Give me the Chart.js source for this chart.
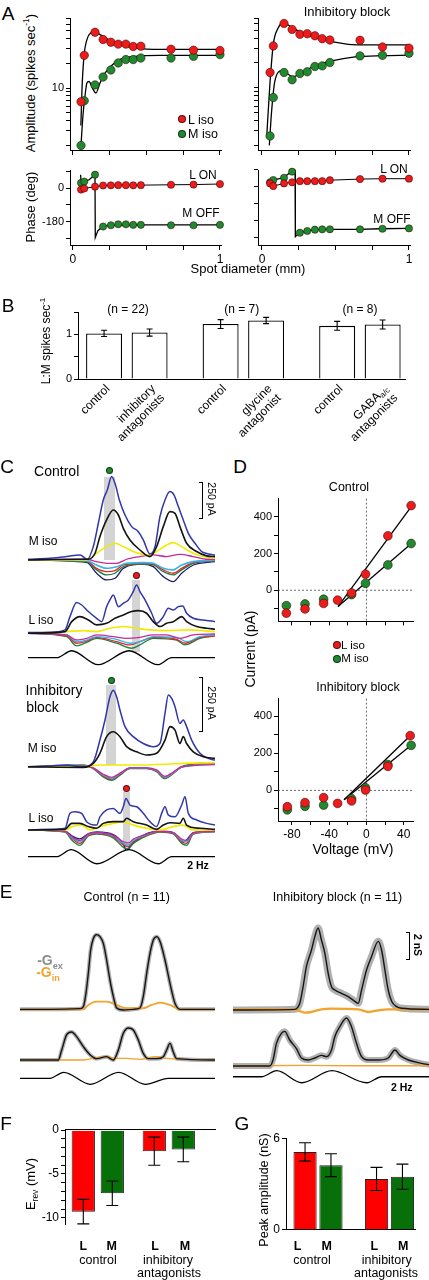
<!DOCTYPE html>
<html>
<head>
<meta charset="utf-8">
<script src="https://cdn.jsdelivr.net/npm/chart.js@4.4.1/dist/chart.umd.min.js"></script>
<style>
  body { margin: 0; width: 429px; height: 1280px; position: relative; overflow: hidden; background: #fff;
         font-family: 'Liberation Sans', Arial, sans-serif; }
  canvas { position: absolute; }
  .t { position: absolute; white-space: nowrap; line-height: 1; color: #000; }
  .t sup, .t sub { font-size: 65%; line-height: 0; }
  .box { position: absolute; }
</style>
</head>
<body>
<script>
// ---------- A: spot diameter tuning (mm) ----------
const spotDiam = [0.055, 0.077, 0.15, 0.205, 0.258, 0.308, 0.36, 0.41, 0.462, 0.667, 0.82, 1.0];
const ampL_ctl = [6.8, 25, 47.7, 38.9, 36.1, 34.2, 34.2, 32, 32.3, 29.7, 28.9, 28.6];
const ampM_ctl = [2.0, 7.0, 10.9, 13.6, 16.6, 20.2, 22.2, 22.2, 23.2, 23.2, 24.3, 25.5];
const ampL_blk = [15.3, 32.1, 60.2, 50.9, 44.4, 45.1, 42.6, 39.3, 37.9, 37.6, 31.2, 30.2];
const ampM_blk = [2.6, 7.6, 15.3, 12.5, 14.9, 15.6, 18.1, 18.4, 20.2, 24.3, 24.7, 26.2];
// fitted curves, [diameter, amplitude]
const fitL_ctl = [[0.054,3.5],[0.061,9.2],[0.075,24.3],[0.095,38.9],[0.122,47.2],[0.15,48.6],[0.184,44.7],[0.252,37.9],[0.32,33.8],[0.422,30.8],[0.592,29.5],[1.0,29.5]];
const fitM_ctl = [[0.054,1.9],[0.068,4.6],[0.082,8],[0.095,11.5],[0.109,12],[0.136,9.7],[0.156,8.7],[0.184,11.5],[0.218,15.2],[0.265,18.9],[0.32,22.3],[0.422,24.3],[0.592,25],[1.0,25]];
const fitL_blk = [[0.032,2.5],[0.054,11.1],[0.077,33.6],[0.111,53.2],[0.145,61.3],[0.19,55.7],[0.27,46.3],[0.36,40.4],[0.474,36.1],[0.587,33.6],[0.723,33],[1.0,33]];
const fitM_blk = [[0.05,2],[0.066,5.3],[0.088,12.1],[0.134,16],[0.168,14.9],[0.213,13.6],[0.27,15.3],[0.36,18.4],[0.474,21.1],[0.633,23.6],[0.814,24.5],[1.0,24.8]];
const phL_ctl = [-8, -2, 8, 14, 15, 16, 16, 15, 16, 18, 19, 22];
const phM_ctl = [28, 35, 72, -206, -199, -194, -194, -197, -197, -199, -199, -197];
const phL_blk = [14, 0, 14, 20, 26, 26, 26, 26, 31, 37, 39, 39];
const phM_blk = [20, 32, 44, 76, -247, -238, -231, -229, -229, -229, -226, -224];
const phFitM_ctl = [[0.052,72],[0.056,30],[0.08,36],[0.11,45],[0.15,72],[0.152,-265],[0.17,-228],[0.2,-207],[0.25,-200],[0.5,-197],[1.0,-197]];
const phFitM_blk = [[0.05,20],[0.077,32],[0.145,44],[0.2,76],[0.225,82],[0.227,-268],[0.254,-247],[0.304,-238],[0.354,-231],[0.456,-229],[0.655,-229],[0.803,-226],[1.0,-224]];
const diamTicks = [0, 0.25, 0.5, 0.75, 1];
const ampTicks = [2, 3, 4, 5, 6, 7, 8, 9, 10, 20, 30, 40, 50, 60, 70];
const phaseTicks = [-270, -180, -90, 0, 90];

// ---------- B: L:M ratio ----------
const lmFirst = [1.02, 1.23, 1.19];
const lmFirstErr = [0.07, 0.1, 0.1];
const lmSecond = [1.04, 1.31, 1.22];
const lmSecondErr = [0.08, 0.07, 0.1];
const lmFirstLabels = [['control'], ['control'], ['control']];
const lmSecondLabels = [['inhibitory', 'antagonists'], ['glycine', 'antagonist'], ['GABA_a/c', 'antagonists']];
const lmGroupN = ['(n = 22)', '(n = 7)', '(n = 8)'];

// ---------- C: currents (time in ms, current in pA) ----------
const cM_blue = [[0,5],[191,12],[336,24],[452,36],[516,5],[568,95],[612,262],[655,428],[690,500],[728,595],[757,547],[795,428],[844,321],[902,238],[960,202],[1003,143],[1061,43],[1105,95],[1148,309],[1192,428],[1235,488],[1270,464],[1308,381],[1351,286],[1395,190],[1453,119],[1511,60],[1569,43],[1627,36]];
const cM_black = [[0,0],[452,5],[525,5],[583,48],[626,167],[684,286],[742,357],[786,321],[829,226],[887,143],[974,71],[1061,24],[1119,95],[1177,238],[1235,345],[1279,333],[1322,238],[1380,119],[1467,60],[1554,29],[1627,24]];
const cM_yellow = [[0,0],[510,0],[597,48],[684,95],[757,119],[829,95],[916,60],[1032,36],[1119,60],[1206,107],[1264,124],[1337,95],[1438,48],[1554,19],[1627,12]];
const cM_magenta = [[0,0],[510,5],[597,-12],[684,-24],[771,-24],[858,5],[974,24],[1090,36],[1206,24],[1322,40],[1438,24],[1554,5],[1627,5]];
const cM_cyan = [[0,0],[510,-5],[597,-36],[684,-60],[771,-48],[858,-24],[1003,-19],[1090,-24],[1177,-60],[1264,-71],[1337,-36],[1438,-12],[1554,-5],[1627,0]];
const cM_red = [[0,0],[510,-7],[597,-60],[684,-83],[757,-76],[829,-36],[1003,-24],[1090,-29],[1177,-71],[1264,-95],[1337,-60],[1438,-19],[1627,-5]];
const cM_green = [[0,0],[510,-12],[597,-71],[684,-107],[757,-95],[829,-48],[1003,-29],[1090,-36],[1177,-83],[1264,-107],[1337,-71],[1438,-24],[1627,-7]];
const cM_navy = [[0,0],[510,-17],[597,-95],[684,-143],[757,-131],[829,-60],[1003,-29],[1090,-48],[1177,-119],[1264,-155],[1337,-95],[1438,-36],[1627,-12]];

const cL_blue = [[0,5],[191,7],[322,24],[365,119],[423,219],[467,202],[525,155],[597,107],[641,83],[684,190],[713,238],[742,274],[786,190],[829,214],[873,238],[916,298],[945,345],[974,298],[1018,238],[1076,143],[1119,71],[1177,119],[1221,179],[1264,167],[1308,190],[1346,195],[1380,143],[1438,107],[1525,95],[1627,83]];
const cL_black = [[0,0],[322,12],[380,83],[452,119],[525,95],[597,60],[684,71],[757,107],[829,131],[902,155],[960,162],[1032,143],[1090,83],[1148,48],[1206,71],[1264,83],[1337,119],[1380,83],[1467,48],[1554,36],[1627,29]];
const cL_yellow = [[0,0],[336,12],[481,19],[597,12],[713,36],[829,48],[945,36],[1061,24],[1206,19],[1380,24],[1627,12]];
const cL_magenta = [[0,0],[336,-12],[423,-48],[510,-36],[597,-12],[742,-24],[858,-36],[974,-29],[1090,-12],[1206,-12],[1322,-36],[1438,-12],[1627,-5]];
const cL_cyan = [[0,0],[336,-12],[423,-60],[510,-48],[597,-24],[771,-43],[887,-71],[974,-60],[1090,-24],[1293,-29],[1380,-60],[1496,-24],[1627,-12]];
const cL_red = [[0,0],[336,-19],[423,-71],[496,-60],[597,-29],[771,-60],[887,-83],[974,-60],[1090,-29],[1293,-43],[1366,-71],[1496,-29],[1627,-19]];
const cL_green = [[0,0],[336,-24],[423,-90],[496,-71],[597,-36],[771,-71],[902,-107],[974,-83],[1090,-36],[1293,-48],[1366,-83],[1496,-36],[1627,-19]];

const bM_blue = [[0,0],[191,3],[336,8],[481,0],[568,23],[626,125],[670,219],[713,328],[742,359],[771,328],[800,266],[844,188],[916,141],[1003,109],[1090,94],[1148,109],[1192,250],[1221,336],[1250,320],[1279,281],[1322,203],[1351,219],[1380,188],[1424,125],[1496,63],[1569,39],[1627,31]];
const bM_black = [[0,0],[481,-3],[568,16],[626,63],[684,141],[742,164],[800,141],[858,94],[945,70],[1032,55],[1119,63],[1192,125],[1235,188],[1279,172],[1322,109],[1351,141],[1380,109],[1438,70],[1525,47],[1627,39]];
const bM_yellow = [[0,0],[481,0],[626,8],[916,8],[1206,12],[1351,16],[1627,19]];
const bM_magenta = [[0,0],[481,3],[568,-5],[655,-35],[728,-50],[800,-30],[887,-5],[1032,-5],[1119,-15],[1192,-45],[1264,-25],[1337,0],[1627,10]];
const bM_cyan = [[0,0],[481,3],[568,-6],[655,-40],[728,-55],[800,-33],[887,-6],[1032,-6],[1119,-18],[1192,-50],[1264,-28],[1337,-2],[1627,12]];
const bM_red = [[0,0],[481,5],[568,-7],[655,-43],[728,-58],[800,-36],[887,-7],[1032,-7],[1119,-20],[1192,-52],[1264,-30],[1337,-2],[1627,15]];
const bM_green = [[0,0],[481,8],[568,-8],[655,-47],[728,-63],[800,-39],[887,-8],[1032,-8],[1119,-23],[1192,-55],[1264,-31],[1337,0],[1496,16],[1627,19]];

const bL_blue = [[0,-3],[191,0],[322,5],[365,75],[409,83],[467,75],[510,36],[597,20],[626,59],[684,91],[742,98],[800,75],[829,106],[853,145],[887,114],[945,106],[1003,75],[1061,36],[1119,13],[1163,75],[1192,106],[1221,67],[1279,59],[1337,114],[1366,153],[1395,75],[1467,44],[1554,28],[1627,20]];
const bL_black = [[0,-3],[322,0],[380,28],[452,28],[525,13],[597,5],[655,28],[742,36],[829,36],[858,52],[916,36],[1032,20],[1119,0],[1177,20],[1235,31],[1322,28],[1351,52],[1380,20],[1496,5],[1627,0]];
const bL_yellow = [[0,-3],[322,-3],[380,13],[467,20],[539,-3],[626,13],[742,28],[829,36],[916,20],[1032,5],[1148,-3],[1264,13],[1351,20],[1438,-3],[1627,-3]];
const bL_magenta = [[0,-3],[322,-9],[380,-34],[452,-52],[525,-22],[597,-15],[742,-28],[829,-58],[873,-64],[916,-46],[1032,-22],[1148,-9],[1264,-15],[1337,-46],[1380,-52],[1438,-15],[1627,-9]];
const bL_cyan = [[0,-3],[322,-10],[380,-38],[452,-59],[525,-24],[597,-17],[742,-31],[829,-66],[873,-73],[916,-52],[1032,-24],[1148,-10],[1264,-17],[1337,-52],[1380,-59],[1438,-17],[1627,-10]];
const bL_red = [[0,-3],[322,-11],[380,-42],[452,-66],[525,-27],[597,-19],[742,-34],[829,-73],[873,-81],[916,-58],[1032,-27],[1148,-11],[1264,-19],[1337,-58],[1380,-66],[1438,-19],[1627,-11]];
const bL_green = [[0,-3],[322,-13],[380,-50],[452,-75],[525,-31],[597,-22],[742,-40],[829,-84],[873,-92],[916,-66],[1032,-31],[1148,-13],[1264,-22],[1337,-66],[1380,-75],[1438,-22],[1627,-12]];
const bL_navy = [[0,-3],[322,-8],[380,-30],[452,-45],[525,-20],[597,-12],[742,-25],[829,-70],[858,-100],[887,-80],[1032,-20],[1148,-8],[1264,-15],[1351,-60],[1380,-50],[1438,-15],[1627,-8]];

// stimulus modulation (relative contrast)
const stimC_ctl = [[0,0],[249,0],[380,1],[610,-1],[880,1],[1130,-1],[1250,0],[1627,0]];
const stimC_blk = [[0,0],[249,0],[375,1],[600,-1],[880,1],[1135,-1],[1250,0],[1627,0]];

// ---------- D: I-V (mV, pA) ----------
const ivV_L_ctl = [-86, -66, -46, -31, -16, -1, 23, 48];
const ivI_L_ctl = [-125, -102, -72, -54, -15, 88, 297, 462];
const ivV_M_ctl = [-86, -66, -46, -16, -1, 23, 48];
const ivI_M_ctl = [-84, -75, -49, -24, 38, 138, 255];
const ivFitL_ctl = [[-30.5, -89], [48.3, 458]];
const ivFitM_ctl = [[-30.5, -89], [48.3, 255]];
const ivV_L_blk = [-85, -66, -46, -31, -16, -1, 23, 47];
const ivI_L_blk = [-88, -66, -39, -70, -57, 2, 130, 295];
const ivV_M_blk = [-85, -66, -46, -16, -1, 23, 48];
const ivI_M_blk = [-105, -86, -79, -45, 14, 139, 243];
const ivFitL_blk = [[-24, -50], [47, 295]];
const ivFitM_blk = [[-24, -50], [48, 243]];

// ---------- E: conductances (ms, nS) ----------
const eCu_gex = [[0,0],[254,0],[508,0.05],[536,0.2],[558,1.2],[578,2.7],[598,4.45],[620,5.3],[649,5.6],[677,5.45],[705,4.95],[733,3.7],[761,2.2],[790,0.95],[818,0.1],[874,-0.05],[959,0],[1015,0.1],[1043,0.95],[1072,2.7],[1100,4.2],[1128,5.2],[1156,5.45],[1184,5.1],[1227,3.7],[1269,1.95],[1311,0.45],[1354,0],[1650,0]];
const eCu_gin = [[0,0],[536,0],[578,0.33],[649,0.58],[733,0.58],[818,0.33],[902,0.08],[1043,0.08],[1114,0.33],[1184,0.5],[1269,0.33],[1354,0],[1650,0]];
const eCl_gex = [[0,0],[324,0],[353,0.75],[395,1.9],[437,2.1],[479,1.75],[536,1.0],[592,0.4],[649,0.1],[733,0.25],[790,0],[832,0.75],[874,2.0],[917,2.4],[959,2.25],[1001,1.5],[1043,0.5],[1086,0.1],[1156,0.1],[1213,0.25],[1241,0.75],[1269,1.25],[1297,0.6],[1325,0.1],[1650,0]];
const eCl_gin = [[0,0],[536,0],[649,0.18],[733,0.25],[818,0.12],[902,0.12],[1015,0.05],[1156,0.25],[1241,0.12],[1650,0]];
const eBu_gex = [[0,-0.05],[522,0],[564,0.45],[592,1.7],[620,3.2],[663,4.45],[691,5.45],[719,6.1],[747,5.2],[776,4.2],[804,2.7],[832,1.7],[860,1.45],[917,1.2],[973,0.95],[1029,0.6],[1058,0.45],[1086,1.45],[1128,2.95],[1170,3.95],[1227,5.1],[1255,4.45],[1283,2.95],[1311,1.45],[1340,0.6],[1382,0.2],[1424,0.08],[1664,0]];
const eBu_gin = [[0,0],[522,0],[606,-0.25],[663,-0.2],[747,0],[832,0.05],[1058,0],[1142,-0.2],[1199,-0.12],[1311,0],[1664,0]];
const eBl_gex = [[0,0],[310,0],[338,0.45],[367,1.7],[409,2.45],[437,2.6],[479,1.95],[536,1.3],[578,0.6],[635,0.45],[691,0.6],[747,0.8],[790,0.7],[832,1.2],[860,2.2],[902,2.95],[959,3.6],[1001,2.95],[1043,1.7],[1086,0.7],[1142,0.45],[1227,0.45],[1311,0.6],[1368,1.2],[1410,0.8],[1481,0.45],[1593,0.2],[1664,0.08]];
const eBl_gin = [[0,0],[600,0.05],[1000,0.02],[1664,0.02]];
const stimE_ctl = [[0,0],[254,0],[370,1],[595,-1],[835,1],[1060,-1],[1255,0],[1650,0]];
const stimE_blk = [[0,0],[240,0],[370,1],[580,-1],[835,1],[1130,-1],[1255,0],[1664,0]];

// ---------- F / G ----------
const revL = [-9.3, -2.4];
const revLErr = [1.4, 1.6];
const revM = [-7.2, -2.2];
const revMErr = [1.4, 1.4];
const peakL = [5.1, 3.33];
const peakLErr = [0.6, 0.76];
const peakM = [4.23, 3.48];
const peakMErr = [0.75, 0.82];

// ---------- setup ----------
const FONT = "'Liberation Sans', Arial, sans-serif";
Chart.defaults.font.family = FONT;
Chart.defaults.font.size = 11;
Chart.defaults.color = '#000';
Chart.defaults.animation = false;
Chart.defaults.responsive = false;
Chart.defaults.events = [];
Chart.defaults.plugins.legend.display = false;
Chart.defaults.plugins.tooltip.enabled = false;

const RED = '#ec1c1c', GREEN = '#1f8a30';
const BAR_RED = '#ff0000', BAR_GREEN = '#087008';
const BLUE = '#3136a8', NAVY = '#1b1f70', BLACK = '#141414', YEL = '#f2ea00',
      MAG = '#c42a9c', CYAN = '#33b5e5', TRED = '#e0262b', TGRN = '#1e7f3c', ORANGE = '#f3a22c';

function txt(html, x, y, size, o) {
  o = o || {};
  const d = document.createElement('div');
  d.className = 't';
  d.innerHTML = html;
  d.style.left = x + 'px';
  d.style.top = y + 'px';
  d.style.fontSize = size + 'px';
  if (o.bold) d.style.fontWeight = 'bold';
  if (o.color) d.style.color = o.color;
  d.style.transform = 'translate(-50%,-50%)' + (o.rot ? ' rotate(' + o.rot + 'deg)' : '');
  document.body.appendChild(d);
}
function rect(x0, y0, x1, y1, bg) {
  const d = document.createElement('div');
  d.className = 'box';
  d.style.cssText += `left:${x0}px;top:${y0}px;width:${x1 - x0}px;height:${y1 - y0}px;background:${bg};`;
  document.body.appendChild(d);
}
function dot(x, y, dia, color) {
  const d = document.createElement('div');
  d.className = 'box';
  d.style.cssText += `left:${x - dia / 2}px;top:${y - dia / 2}px;width:${dia}px;height:${dia}px;border-radius:50%;background:${color};box-sizing:border-box;border:0.7px solid rgba(0,0,0,0.6);`;
  document.body.appendChild(d);
}
function bracket(x, y0, y1) {
  const d = document.createElement('div');
  d.className = 'box';
  d.style.cssText += `left:${x - 4}px;top:${y0}px;width:3px;height:${y1 - y0}px;border:1px solid #000;border-left:none;`;
  document.body.appendChild(d);
}

// canvas whose chart area lands on `area` = [x0,y0,x1,y1]
function mk(area, m, cfg) {
  const c = document.createElement('canvas');
  const W = area[2] - area[0] + m.l + m.r, H = area[3] - area[1] + m.t + m.b;
  c.width = W; c.height = H;
  c.style.left = (area[0] - m.l) + 'px';
  c.style.top = (area[1] - m.t) + 'px';
  document.body.appendChild(c);
  cfg.options = cfg.options || {};
  cfg.options.layout = { autoPadding: false, padding: m.pad || { left: 0, top: m.t, right: m.r, bottom: 0 } };
  return new Chart(c, cfg);
}

function ax(o) {
  const a = {
    type: o.type || 'linear',
    min: o.min, max: o.max, offset: false,
    grid: { display: !o.noTicks, drawOnChartArea: false, drawTicks: true, tickLength: o.tick || 4, tickColor: '#000', tickWidth: 1 },
    border: { display: true, color: '#000', width: 1 },
    ticks: { display: !!o.labels, padding: o.pad || 2, maxRotation: 0, minRotation: 0, autoSkip: false, font: { size: o.font || 11 } },
    afterFit: s => { if (s.isHorizontal()) s.height = o.size; else s.width = o.size; }
  };
  if (o.position) a.position = o.position;
  if (o.labels) a.ticks.callback = v => (o.labels.indexOf(v) >= 0 ? String(v) : '');
  if (o.ticks) a.afterBuildTicks = s => { s.ticks = o.ticks.map(v => ({ value: v })); };
  return a;
}
const hidden = (min, max) => ({ type: 'linear', display: false, min, max });

function pts(xs, ys) { return xs.map((x, i) => ({ x, y: ys[i] })); }
function dotSet(data, color, line, r) {
  return { data, showLine: !!line, borderColor: '#000', borderWidth: 1, backgroundColor: color,
           pointBackgroundColor: color, pointBorderColor: 'rgba(40,0,0,0.65)', pointBorderWidth: 0.8,
           pointRadius: r || 4.2, clip: false, tension: 0 };
}
function fitSet(data, smooth) {
  return { data, borderColor: '#000', borderWidth: 1.3, pointRadius: 0, fill: false, clip: false,
           cubicInterpolationMode: smooth ? 'monotone' : 'default', tension: 0 };
}

// error bars on bar charts
function errPlugin(errs, cap) {
  return { id: 'errbars', afterDatasetsDraw(chart) {
    const ctx = chart.ctx, ys = chart.scales.y;
    ctx.save(); ctx.strokeStyle = '#000'; ctx.lineWidth = 1.1;
    chart.data.datasets.forEach((ds, di) => {
      chart.getDatasetMeta(di).data.forEach((bar, i) => {
        const v = ds.data[i].y, e = errs[di][i];
        const y1 = ys.getPixelForValue(v - e), y2 = ys.getPixelForValue(v + e);
        ctx.beginPath();
        ctx.moveTo(bar.x, y1); ctx.lineTo(bar.x, y2);
        ctx.moveTo(bar.x - cap, y1); ctx.lineTo(bar.x + cap, y1);
        ctx.moveTo(bar.x - cap, y2); ctx.lineTo(bar.x + cap, y2);
        ctx.stroke();
      });
    });
    ctx.restore();
  } };
}
// rotated category labels under each bar
function barLabels(lines) {
  return { id: 'barlabels', afterDraw(chart) {
    const ctx = chart.ctx, base = chart.chartArea.bottom;
    ctx.save();
    ctx.fillStyle = '#000'; ctx.textAlign = 'right'; ctx.textBaseline = 'middle';
    chart.data.datasets.forEach((ds, di) => {
      chart.getDatasetMeta(di).data.forEach((bar, i) => {
        ctx.save();
        ctx.translate(bar.x + 4, base + 8);
        ctx.rotate(-Math.PI / 4);
        lines[di][i].forEach((ln, k) => {
          const parts = ln.split('_');
          let x = 0;
          if (parts[1]) {
            ctx.font = '8px ' + FONT;
            ctx.fillText(parts[1], 0, k * 13 + 3);
            x = -ctx.measureText(parts[1]).width;
          }
          ctx.font = '12px ' + FONT;
          ctx.fillText(parts[0], x, k * 13);
        });
        ctx.restore();
      });
    });
    ctx.restore();
  } };
}
// dashed zero reference lines for I-V plots
const zeroLines = { id: 'zerolines', beforeDatasetsDraw(chart) {
  const { ctx, chartArea: a, scales: { x, y } } = chart;
  const px = x.getPixelForValue(0), py = y.getPixelForValue(0);
  ctx.save(); ctx.strokeStyle = '#444'; ctx.lineWidth = 0.8; ctx.setLineDash([2, 2]);
  ctx.beginPath();
  ctx.moveTo(a.left, py); ctx.lineTo(a.right, py);
  ctx.moveTo(px, a.top); ctx.lineTo(px, a.bottom);
  ctx.stroke(); ctx.restore();
} };

function traces(area, xmax, ymin, ymax, sets) {
  return mk(area, { l: 0, t: 0, r: 0, b: 0 }, {
    type: 'line',
    data: { datasets: sets.map(s => ({ data: s[0], borderColor: s[1], borderWidth: s[2] || 1.3, pointRadius: 0,
                                       cubicInterpolationMode: 'monotone', fill: false })) },
    options: { scales: { x: hidden(0, xmax), y: hidden(ymin, ymax) } }
  });
}

// ---------- highlight windows (under the traces) ----------
rect(104.3, 476.7, 115, 560, '#d4d4d4');
rect(132.3, 580, 140, 651.7, '#d4d4d4');
rect(106, 685, 116, 765, '#d4d4d4');
rect(123.3, 791.7, 130, 850, '#d4d4d4');

// ---------- A ----------
function ampChart(area, l, xmin, L, M, fL, fM, ylab) {
  return mk(area, { l, t: 8, r: 9, b: 12 }, {
    type: 'line',
    data: { datasets: [dotSet(pts(spotDiam, L), RED), dotSet(pts(spotDiam, M), GREEN), fitSet(fL, true), fitSet(fM, true)] },
    options: { scales: {
      x: ax({ min: xmin, max: 1.007, ticks: diamTicks, size: 12, tick: 5 }),
      y: ax({ type: 'logarithmic', min: 1.76, max: 70, ticks: ampTicks, labels: ylab, size: l })
    } }
  });
}
ampChart([70, 18, 221, 150], 30, -0.02, ampL_ctl, ampM_ctl, fitL_ctl, fitM_ctl, [10]);
ampChart([258, 18, 410, 150], 10, -0.027, ampL_blk, ampM_blk, fitL_blk, fitM_blk, null);

function phaseChart(area, l, xmin, ymin, ymax, L, M, fM, ylab) {
  return mk(area, { l, t: 8, r: 9, b: 22 }, {
    type: 'line',
    data: { datasets: [dotSet(pts(spotDiam, L), RED, true, 3.6), dotSet(pts(spotDiam, M), GREEN, false, 3.6), fitSet(fM, false)] },
    options: { scales: {
      x: ax({ min: xmin, max: 1.007, ticks: diamTicks, labels: [0, 1], size: 22, tick: 5, pad: 2, font: 12 }),
      y: ax({ min: ymin, max: ymax, ticks: phaseTicks, labels: ylab, size: l })
    } }
  });
}
phaseChart([70, 170, 221, 245], 40, -0.02, -305, 94, phL_ctl, phM_ctl, phFitM_ctl, [0, -180]);
phaseChart([258, 170, 410, 245], 10, -0.027, -312, 85, phL_blk, phM_blk, phFitM_blk, null);

// ---------- B ----------
mk([78, 312, 405, 379], { l: 40, t: 10, r: 12, b: 65 }, {
  type: 'bar',
  data: { datasets: [lmFirst, lmSecond].map(vals => ({
    data: vals.map((v, i) => ({ x: i, y: v })), backgroundColor: '#fff', borderColor: '#000', borderWidth: 1.3,
    categoryPercentage: 0.781, barPercentage: 0.791 })) },
  options: { scales: {
    x: ax({ min: -0.419, max: 2.387, ticks: lmFirst.map((_, i) => i), noTicks: true, size: 65 }),
    y: ax({ min: 0, max: 1.5, ticks: [0, 0.5, 1, 1.5], labels: [0, 1], size: 40 })
  } },
  plugins: [errPlugin([lmFirstErr, lmSecondErr], 3), barLabels([lmFirstLabels, lmSecondLabels])]
});

// ---------- C ----------
traces([28, 465, 215, 600], 1627, -286, 678, [
  [cM_black, BLACK, 1.6], [cM_blue, BLUE, 1.5], [cM_yellow, YEL, 1.6], [cM_magenta, MAG], [cM_cyan, CYAN, 1.6],
  [cM_red, TRED], [cM_green, TGRN], [cM_navy, NAVY]]);
traces([28, 575, 215, 655], 1627, -155, 416, [
  [cL_black, BLACK, 1.6], [cL_blue, BLUE, 1.5], [cL_yellow, YEL, 1.6], [cL_magenta, MAG], [cL_cyan, CYAN],
  [cL_red, TRED], [cL_green, TGRN]]);
traces([28, 648, 215, 668], 1627, -1.47, 1.39, [[stimC_ctl, '#000', 1.3]]);
traces([28, 675, 215, 790], 1627, -109, 430, [
  [bM_black, BLACK, 1.6], [bM_blue, BLUE, 1.5], [bM_yellow, YEL, 1.6], [bM_magenta, MAG], [bM_cyan, CYAN],
  [bM_red, TRED], [bM_green, TGRN, 1.6]]);
traces([28, 785, 215, 850], 1627, -97, 208, [
  [bL_black, BLACK, 1.6], [bL_blue, BLUE, 1.5], [bL_yellow, YEL, 1.8], [bL_magenta, MAG], [bL_cyan, CYAN],
  [bL_red, TRED], [bL_green, TGRN], [bL_navy, NAVY]]);
traces([28, 846, 215, 868], 1627, -1.61, 1.53, [[stimC_blk, '#000', 1.3]]);

// ---------- D ----------
function ivChart(area, b, vL, iL, vM, iM, fL, fM, ymin, ymax, xlab) {
  return mk(area, { l: 32, t: 8, r: 8, b }, {
    type: 'line',
    data: { datasets: [dotSet(pts(vL, iL), RED, false, 4.4), dotSet(pts(vM, iM), GREEN, false, 4.4), fitSet(fL), fitSet(fM)] },
    options: { scales: {
      x: ax({ min: -95, max: 50, ticks: [-80, -60, -40, -20, 0, 20, 40], labels: xlab, size: b, font: 12 }),
      y: ax({ min: ymin, max: ymax, ticks: [-100, 0, 100, 200, 300, 400], labels: [0, 200, 400], size: 32 })
    } },
    plugins: [zeroLines]
  });
}
ivChart([278, 498, 413, 622], 8, ivV_L_ctl, ivI_L_ctl, ivV_M_ctl, ivI_M_ctl, ivFitL_ctl, ivFitM_ctl, -170, 500, null);
ivChart([278, 698, 413, 821], 22, ivV_L_blk, ivI_L_blk, ivV_M_blk, ivI_M_blk, ivFitL_blk, ivFitM_blk, -165, 495, [-80, -40, 0, 40]);

// ---------- E ----------
traces([20, 900, 215, 1020], 1650, -0.8, 8.2, [[eCu_gex, BLACK, 1.4], [eCu_gin, ORANGE, 1.8], [eCu_gex, '#b0b0b0', 4]]);
traces([20, 1015, 215, 1070], 1650, -0.75, 3.375, [[eCl_gex, BLACK, 1.4], [eCl_gin, ORANGE, 1.3], [eCl_gex, '#b0b0b0', 4]]);
traces([20, 1066, 215, 1090], 1650, -1.95, 2.05, [[stimE_ctl, '#000', 1.3]]);
traces([233, 900, 430, 1020], 1664, -0.8, 8.2, [[eBu_gex, BLACK, 1.4], [eBu_gin, ORANGE, 2.4], [eBu_gex, '#b0b0b0', 7]]);
traces([233, 1005, 430, 1075], 1664, -0.675, 4.575, [[eBl_gex, BLACK, 1.4], [eBl_gin, ORANGE, 1.3], [eBl_gex, '#b0b0b0', 6]]);
traces([233, 1066, 430, 1090], 1664, -2.2, 1.78, [[stimE_blk, '#000', 1.3]]);

// ---------- F ----------
mk([65, 1128, 215, 1228], { l: 34, t: 8, r: 8, b: 6, pad: { left: 0, top: 0, right: 8, bottom: 6 } }, {
  type: 'bar',
  data: { datasets: [[revL, BAR_RED], [revM, BAR_GREEN]].map(([vals, col]) => ({
    data: vals.map((v, i) => ({ x: i, y: v })), backgroundColor: col, borderColor: '#222', borderWidth: 1,
    categoryPercentage: 0.817, barPercentage: 0.803 })) },
  options: { scales: {
    x: ax({ min: -0.462, max: 1.651, ticks: revL.map((_, i) => i), noTicks: true, size: 8, position: 'top' }),
    y: ax({ min: -10.8, max: 0.11, ticks: [-10, -9, -8, -7, -6, -5, -4, -3, -2, -1, 0], labels: [0, -5, -10], size: 34, font: 12 })
  } },
  plugins: [errPlugin([revLErr, revMErr], 6)]
});

// ---------- G ----------
mk([285.7, 1137, 415, 1233], { l: 30, t: 8, r: 8, b: 6 }, {
  type: 'bar',
  data: { datasets: [[peakL, BAR_RED], [peakM, BAR_GREEN]].map(([vals, col]) => ({
    data: vals.map((v, i) => ({ x: i, y: v })), backgroundColor: col, borderColor: '#222', borderWidth: 1,
    categoryPercentage: 0.725, barPercentage: 0.896 })) },
  options: { scales: {
    x: ax({ min: -0.448, max: 1.357, ticks: peakL.map((_, i) => i), noTicks: true, size: 6 }),
    y: ax({ min: 0, max: 6, ticks: [0, 6], labels: [0, 6], size: 30, font: 12 })
  } },
  plugins: [errPlugin([peakLErr, peakMErr], 6)]
});

// ---------- text & annotations ----------
// A
txt('A', 8, 13, 19);
txt('Inhibitory block', 347, 11, 13);
txt('Amplitude (spikes sec<sup>-1</sup>)', 30, 83, 13, { rot: -90 });
dot(181.7, 119, 8, RED); txt('L iso', 201, 119.5, 12.5);
dot(181.7, 133.7, 8, GREEN); txt('M iso', 203, 134, 12.5);
txt('Phase (deg)', 30, 207, 13, { rot: -90 });
txt('L ON', 203, 174.5, 12);
txt('M OFF', 201, 213, 12);
txt('L ON', 394, 168.5, 12);
txt('M OFF', 392, 218.5, 12);
txt('Spot diameter (mm)', 248, 268, 13);
// B
txt('B', 8, 305, 19);
txt('L:M spikes sec<sup>-1</sup>', 46, 341, 12, { rot: -90 });
lmGroupN.forEach((s, i) => txt(s, [128, 241.7, 360][i], 309, 12));
// C
txt('C', 7, 466, 19);
txt('Control', 56.7, 471, 14);
dot(109.3, 470.7, 7, GREEN);
txt('M iso', 43, 541, 12);
dot(136, 575, 7, RED);
txt('L iso', 41, 620, 12);
bracket(203.3, 481.7, 516.7);
txt('250 pA', 211.5, 499, 10.5, { rot: 90 });
txt('Inhibitory', 54, 690, 14);
txt('block', 42.5, 706.5, 14);
dot(111, 680, 7, GREEN);
bracket(203.3, 676.7, 730);
txt('250 pA', 211.5, 703, 10.5, { rot: 90 });
txt('M iso', 42, 748, 12);
dot(126, 788.3, 7, RED);
txt('L iso', 41, 818, 12);
txt('2 Hz', 198, 865, 10.5, { bold: true });
// D
txt('D', 240, 466, 19);
txt('Control', 349, 486.5, 12.5);
txt('Current (pA)', 250, 649, 14, { rot: -90 });
dot(336.7, 645, 8, RED); txt('L iso', 353, 645.5, 11.5);
dot(336.7, 658.7, 8, GREEN); txt('M iso', 355, 659, 11.5);
txt('Inhibitory block', 358, 686.5, 12.5);
txt('Voltage (mV)', 353, 848.5, 14);
// E
txt('E', 6, 891, 19);
txt('Control (n = 11)', 126.7, 896.7, 12.5);
txt('Inhibitory block (n = 11)', 337.5, 896.7, 12.5);
txt('-G<sub>ex</sub>', 50, 960, 14, { bold: true, color: '#8c8c8c' });
txt('-G<sub>in</sub>', 48, 971.5, 14, { bold: true, color: ORANGE });
bracket(410, 931.7, 958.3);
txt('2 nS', 417.5, 945, 10.5, { rot: 90, bold: true });
txt('2 Hz', 401.7, 1087, 10.5, { bold: true });
// F
txt('F', 6, 1123, 19);
txt('E<sub>rev</sub> (mV)', 30, 1184, 13, { rot: -90 });
[['L', 83.3], ['M', 111.7], ['L', 155], ['M', 185]].forEach(([s, x]) => txt(s, x, 1246, 12.5, { bold: true }));
txt('control', 98, 1259.5, 12.5);
txt('inhibitory', 168, 1260, 12.5);
txt('antagonists', 169, 1272.5, 12.5);
// G
txt('G', 242, 1123, 19);
txt('Peak amplitude (nS)', 264, 1190, 12.5, { rot: -90 });
[['L', 297.7], ['M', 326.7], ['L', 374.3], ['M', 403.3]].forEach(([s, x]) => txt(s, x, 1246, 12.5, { bold: true }));
txt('control', 312, 1259.5, 12.5);
txt('inhibitory', 386.7, 1260, 12.5);
txt('antagonists', 386, 1272.5, 12.5);
</script>
</body>
</html>
